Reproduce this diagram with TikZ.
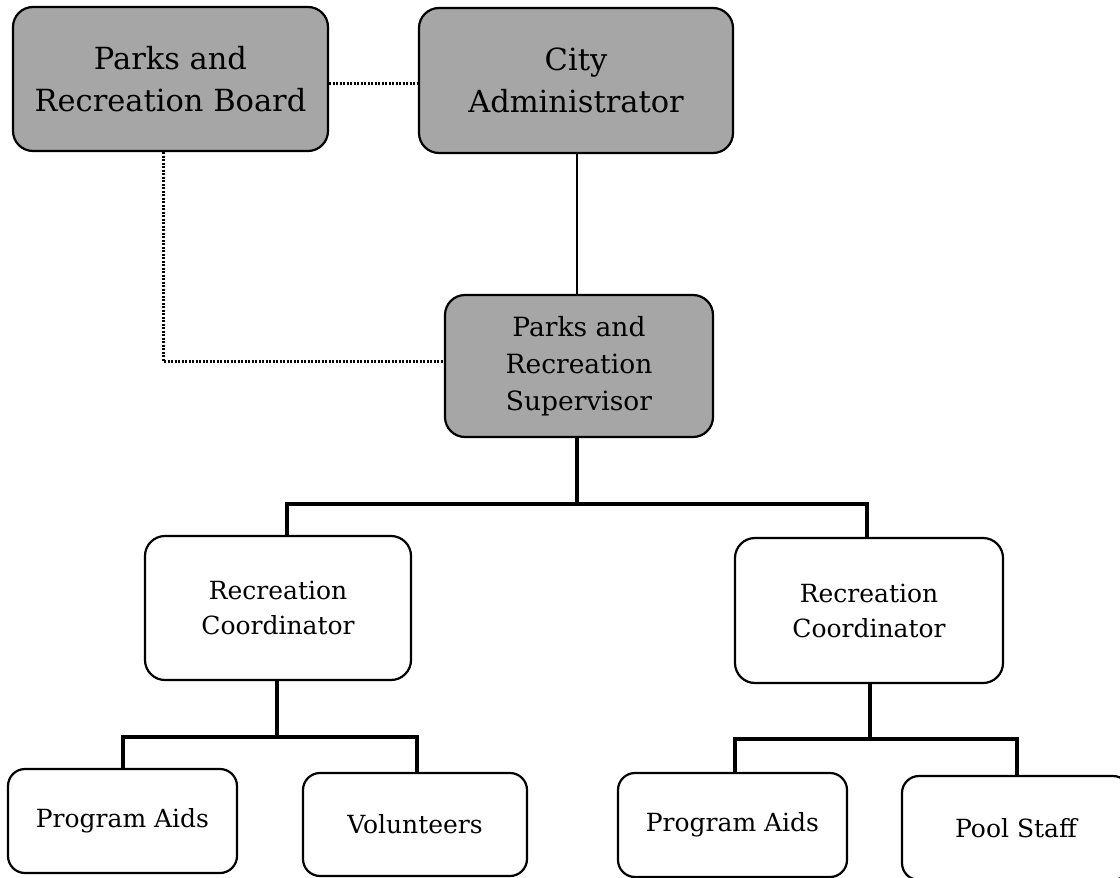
\documentclass[tikz,border=0pt]{standalone}
\usepackage{fontspec}
\setmainfont{DejaVu Serif}
\definecolor{boxgray}{RGB}{166,166,166}
\tikzset{
  unit/.style={draw=black, line width=2.2pt, rounded corners=20pt, align=center, inner sep=0pt},
  topunit/.style={unit, fill=boxgray, font=\fontsize{30.5}{42}\selectfont},
  supunit/.style={unit, fill=boxgray, font=\fontsize{26.5}{37}\selectfont},
  coordunit/.style={unit, fill=white, font=\fontsize{25}{35}\selectfont},
  staffunit/.style={unit, fill=white, rounded corners=17pt, font=\fontsize{25}{30}\selectfont},
  bus/.style={line width=3.2pt, line cap=rect},
  thinlink/.style={line width=1.8pt},
  dotlink/.style={line width=3pt, dash pattern=on 2.2pt off 1.3pt}
}
\begin{document}
\begin{tikzpicture}[x=1pt, y=-1pt]
\useasboundingbox[fill=white] (0,0) rectangle (1120,878);

% senior units
\node[topunit, minimum width=315pt, minimum height=144pt] (board) at (170.5,79) {Parks and\\Recreation Board};
\node[topunit, minimum width=314pt, minimum height=145pt] (admin) at (576,80.5) {City\\Administrator};
\node[supunit, minimum width=268pt, minimum height=142pt] (sup) at (579,366) {Parks and\\Recreation\\Supervisor};

% coordinators
\node[coordunit, minimum width=266pt, minimum height=144pt] (cl) at (278,608) {Recreation\\Coordinator};
\node[coordunit, minimum width=268pt, minimum height=145pt] (cr) at (869,610.5) {Recreation\\Coordinator};

% staff
\node[staffunit, minimum width=229pt, minimum height=104pt] (pa1) at (122.5,821) {Program Aids};
\node[staffunit, minimum width=224pt, minimum height=103pt] (vol) at (415,824.5) {Volunteers};
\node[staffunit, minimum width=229pt, minimum height=104pt] (pa2) at (732.5,825) {Program Aids};
\node[staffunit, minimum width=228pt, minimum height=104pt] (pool) at (1016,828) {Pool Staff};

% junction points of the reporting lines
\coordinate (j1) at (577,504);
\coordinate (j2) at (277,737);
\coordinate (j3) at (870,739);

% advisory (dotted) links
\draw[dotlink] ([yshift=-4pt]board.east) -- ([yshift=-4pt]board.east -| admin.west);
\draw[dotlink] ([xshift=-7.5pt]board.south) |- ([yshift=5pt]sup.west);

% reporting lines
\draw[thinlink] ([xshift=1pt]admin.south) -- ([xshift=1pt]admin.south |- sup.north);
\draw[bus] (sup.south -| j1) -- (j1);
\draw[bus] ([xshift=9pt]cl.north) |- (j1) -| ([xshift=-2pt]cr.north);
\draw[bus] (cl.south -| j2) -- (j2);
\draw[bus] ([xshift=0.5pt]pa1.north) |- (j2) -| ([xshift=2pt]vol.north);
\draw[bus] (cr.south -| j3) -- (j3);
\draw[bus] ([xshift=2.5pt]pa2.north) |- (j3) -| ([xshift=1pt]pool.north);
\end{tikzpicture}
\end{document}
